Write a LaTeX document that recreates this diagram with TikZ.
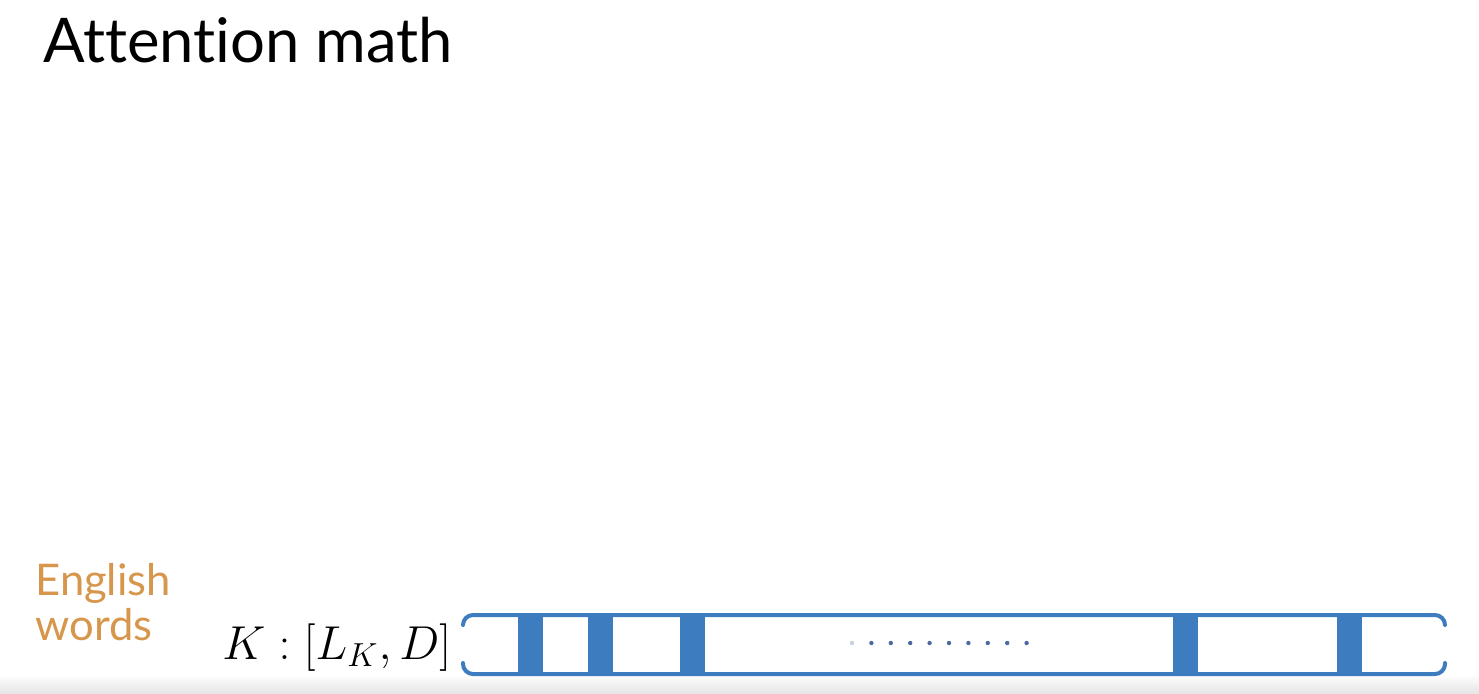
\RequirePackage{fix-cm}
\documentclass[tikz,border=0pt]{standalone}
\usepackage[no-math]{fontspec}
\newfontfamily\lato[Ligatures=NoCommon]{Lato}
\definecolor{barblue}{HTML}{3E7CC0}
\definecolor{wordorange}{HTML}{D6964C}
\definecolor{dotgray}{HTML}{4A6A9E}
\begin{document}
\begin{tikzpicture}[x=0.5pt,y=-0.5pt,
  title/.style={anchor=base west,inner sep=0,font=\lato\fontsize{30.8}{36}\selectfont},
  orangetext/.style={anchor=base west,inner sep=0,text=wordorange,font=\lato\fontsize{21.8}{25}\selectfont},
  mathlabel/.style={anchor=base west,inner sep=0,font=\fontsize{23.8}{28}\selectfont},
  bracketline/.style={draw=barblue,line width=2pt,line cap=round,rounded corners=5pt},
  slot/.style={fill=barblue,draw=none},
  dot/.style={fill=dotgray,draw=none}]
\useasboundingbox (0,0) rectangle (1479,693);
\shade[top color=white,bottom color=black!10] (0,674) rectangle (1479,693);
\node[title] (ttl) at (43,62) {Attention math};
\node[orangetext] (eng) at (35,595) {English};
\node[orangetext] (wrd) at (35,640) {words};
\node[mathlabel] (kl) at (222,659) {$K:[L_K,D]$};
% bracket-shaped bar
\draw[bracketline] (463,625) -- (463,615) -- (1445,615) -- (1445,625);
\draw[bracketline] (463,663) -- (463,674) -- (1445,674) -- (1445,663);
% slots
\foreach \a/\b in {518/543,588/613,680/705,1173/1198,1337/1362}
  \fill[slot] (\a,615) rectangle (\b,674);
% dots
\foreach \i in {0,...,9}
  \fill[dot, opacity={\i==0 ? 0.3 : 1}] (852+19.4*\i,643) circle (2.2);
\end{tikzpicture}
\end{document}
